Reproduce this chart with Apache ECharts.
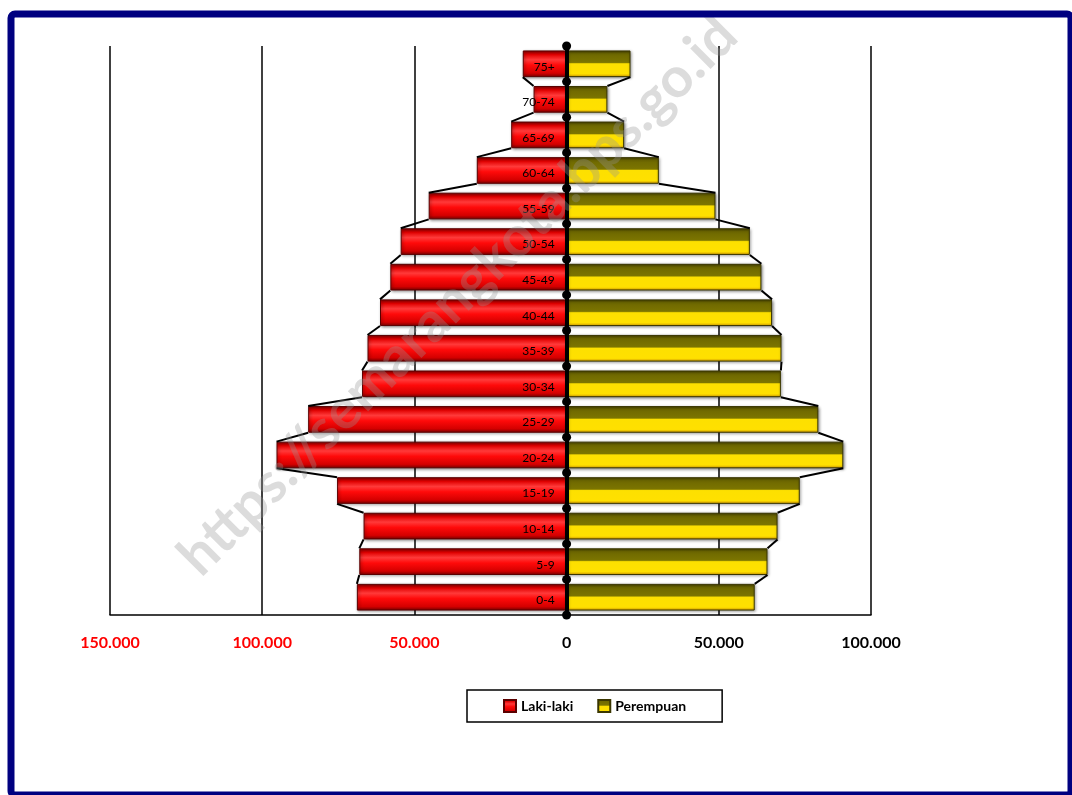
<!DOCTYPE html>
<html>
<head>
<meta charset="utf-8">
<script src="https://cdn.jsdelivr.net/npm/echarts@6/dist/echarts.min.js"></script>
<style>
  html, body { margin: 0; padding: 0; background: #fff; }
  #chart { width: 1072px; height: 795px; }
</style>
</head>
<body>
<div id="chart"></div>
<script>
// kelompok umur, dari bawah (0-4) ke atas (75+)
const kelompokUmur = ['0-4', '5-9', '10-14', '15-19', '20-24', '25-29', '30-34', '35-39',
    '40-44', '45-49', '50-54', '55-59', '60-64', '65-69', '70-74', '75+'];
const lakiLaki = [68900, 68100, 66700, 75400, 95300, 84900, 67200, 65400,
    61300, 57900, 54500, 45300, 29500, 18200, 10850, 14400];
const perempuan = [61800, 66000, 69300, 76600, 90900, 82700, 70400, 70600,
    67500, 64000, 60200, 48900, 30300, 18900, 13400, 21000];

const FONT = 'Lato, "Open Sans", sans-serif';
const BAR_FILL = 0.75;

const fmt = v => Math.abs(v).toString().replace(/\B(?=(\d{3})+(?!\d))/g, '.');

const redFill = new echarts.graphic.LinearGradient(0, 0, 0, 1, [
    { offset: 0, color: '#8a0000' },
    { offset: 0.15, color: '#e00000' },
    { offset: 0.35, color: '#ff3a3a' },
    { offset: 0.55, color: '#ff0a0a' },
    { offset: 0.85, color: '#d40000' },
    { offset: 1, color: '#7a0000' }
]);
const yellowFill = new echarts.graphic.LinearGradient(0, 0, 0, 1, [
    { offset: 0, color: '#4a4600' },
    { offset: 0.12, color: '#6e6800' },
    { offset: 0.45, color: '#7c7500' },
    { offset: 0.5, color: '#fde000' },
    { offset: 0.88, color: '#ffe000' },
    { offset: 1, color: '#d89a00' }
]);

const chart = echarts.init(document.getElementById('chart'));

chart.setOption({
    animation: false,
    backgroundColor: '#fff',
    grid: { left: 110, right: 201, top: 46, bottom: 180 },
    legend: {
        left: 467, top: 690,
        padding: [9, 36, 9, 36],
        borderColor: '#000', borderWidth: 1.5,
        itemWidth: 12, itemHeight: 12, itemGap: 24,
        icon: 'rect',
        textStyle: { fontFamily: FONT, fontWeight: 'bold', fontSize: 14, color: '#000' },
        data: ['Laki-laki', 'Perempuan']
    },
    xAxis: {
        type: 'value',
        min: -150000, max: 100000, interval: 50000,
        axisLine: { show: true, lineStyle: { color: '#000', width: 1.5 } },
        axisTick: { show: false },
        splitLine: { show: true, lineStyle: { color: '#000', width: 1.5 } },
        axisLabel: {
            margin: 20,
            formatter: v => (v < 0 ? '{r|' : '{b|') + fmt(v) + '}',
            rich: {
                r: { color: '#ff0000', fontFamily: FONT, fontWeight: 'bold', fontSize: 16 },
                b: { color: '#000', fontFamily: FONT, fontWeight: 'bold', fontSize: 16 }
            }
        }
    },
    yAxis: {
        type: 'category',
        data: kelompokUmur,
        z: 4,
        axisLine: { onZero: true, lineStyle: { color: '#000', width: 4 } },
        axisTick: { show: false },
        axisLabel: { show: false }
    },
    graphic: [
        {
            type: 'rect', z: 100, silent: true,
            shape: { x: 11, y: 14, width: 1060, height: 781, r: 4 },
            style: { fill: 'none', stroke: '#000080', lineWidth: 7 }
        },
        {
            type: 'text', z: 50, silent: true,
            x: 458, y: 296, rotation: Math.PI / 4,
            style: {
                text: 'https://semarangkota.bps.go.id',
                fontFamily: FONT, fontWeight: 'bold', fontSize: 56,
                fill: 'rgba(150,150,150,0.33)',
                align: 'center', verticalAlign: 'middle'
            }
        }
    ],
    series: [
        {
            name: 'Laki-laki',
            type: 'bar',
            barGap: '-100%',
            barCategoryGap: '25%',
            data: lakiLaki.map(v => -v),
            itemStyle: {
                color: redFill, borderColor: '#5a0000', borderWidth: 1,
                shadowBlur: 3, shadowColor: 'rgba(0,0,0,0.45)', shadowOffsetX: 1, shadowOffsetY: 1
            }
        },
        {
            name: 'Perempuan',
            type: 'bar',
            barCategoryGap: '25%',
            data: perempuan,
            itemStyle: {
                color: yellowFill, borderColor: '#3a3600', borderWidth: 1,
                shadowBlur: 3, shadowColor: 'rgba(0,0,0,0.45)', shadowOffsetX: 1, shadowOffsetY: 1
            }
        },
        {
            // garis tepi piramida, titik pada sumbu nol dan label umur
            type: 'custom',
            z: 6,
            silent: true,
            data: kelompokUmur.map((k, i) => [0, i]),
            encode: { x: 0, y: 1 },
            renderItem: (params, api) => {
                const i = params.dataIndex;
                const band = api.size([0, 1])[1];
                const half = band * BAR_FILL / 2;
                const children = [];
                if (i < kelompokUmur.length - 1) {
                    [[lakiLaki, -1], [perempuan, 1]].forEach(([vals, s]) => {
                        const a = api.coord([s * vals[i], i]);
                        const b = api.coord([s * vals[i + 1], i + 1]);
                        children.push({
                            type: 'line',
                            shape: { x1: a[0], y1: a[1] - half, x2: b[0], y2: b[1] + half },
                            style: { stroke: '#000', lineWidth: 2 }
                        });
                    });
                }
                const c = api.coord([0, i]);
                children.push({
                    type: 'text',
                    style: {
                        text: kelompokUmur[i], x: c[0] - 12, y: c[1] + 3,
                        align: 'right', verticalAlign: 'middle',
                        fontFamily: FONT, fontSize: 12, fill: '#000'
                    }
                });
                children.push({ type: 'circle', shape: { cx: c[0], cy: c[1] + band / 2, r: 4.5 }, style: { fill: '#000' } });
                if (i === kelompokUmur.length - 1) {
                    children.push({ type: 'circle', shape: { cx: c[0], cy: c[1] - band / 2, r: 4.5 }, style: { fill: '#000' } });
                }
                return { type: 'group', children };
            }
        }
    ]
});
</script>
</body>
</html>
